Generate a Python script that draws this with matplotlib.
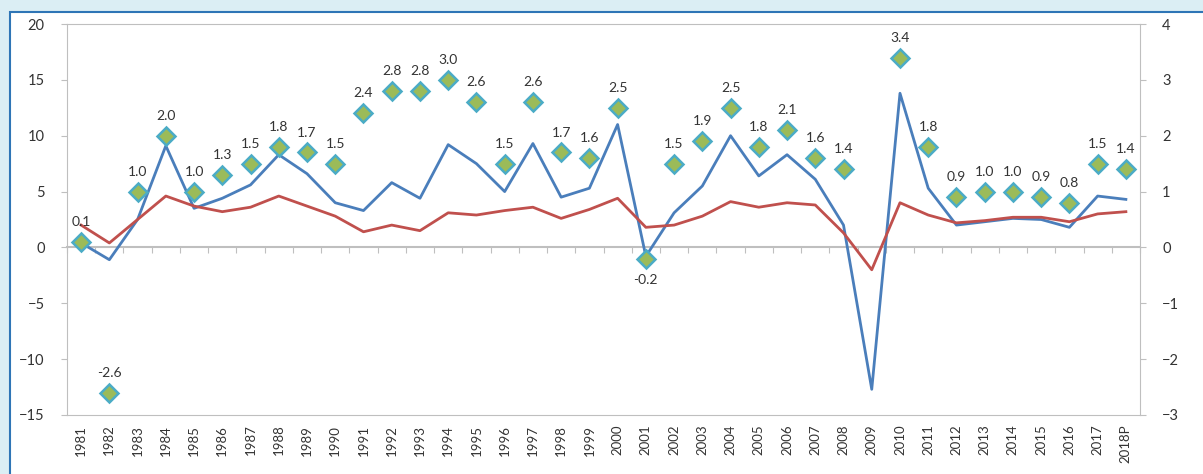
import matplotlib.pyplot as plt
import numpy as np
from matplotlib.patches import Rectangle

plt.rcParams['font.family'] = ['Lato', 'DejaVu Sans']

YEARS = [str(y) for y in range(1981, 2018)] + ['2018P']

# left axis series
BLUE_VALUES = [0.4, -1.1, 2.5, 9.1, 3.5, 4.4, 5.6, 8.3, 6.6, 4.0,
               3.3, 5.8, 4.4, 9.2, 7.5, 5.0, 9.3, 4.5, 5.3, 11.0,
               -0.8, 3.1, 5.5, 10.0, 6.4, 8.3, 6.1, 2.0, -12.7, 13.8,
               5.3, 2.0, 2.3, 2.6, 2.5, 1.8, 4.6, 4.3]
RED_VALUES = [2.0, 0.4, 2.5, 4.6, 3.7, 3.2, 3.6, 4.6, 3.7, 2.8,
              1.4, 2.0, 1.5, 3.1, 2.9, 3.3, 3.6, 2.6, 3.4, 4.4,
              1.8, 2.0, 2.8, 4.1, 3.6, 4.0, 3.8, 1.3, -2.0, 4.0,
              2.9, 2.2, 2.4, 2.7, 2.7, 2.3, 3.0, 3.2]
# right axis series (no point for 2009)
DIAMOND_VALUES = [0.1, -2.6, 1.0, 2.0, 1.0, 1.3, 1.5, 1.8, 1.7, 1.5,
                  2.4, 2.8, 2.8, 3.0, 2.6, 1.5, 2.6, 1.7, 1.6, 2.5,
                  -0.2, 1.5, 1.9, 2.5, 1.8, 2.1, 1.6, 1.4, None, 3.4,
                  1.8, 0.9, 1.0, 1.0, 0.9, 0.8, 1.5, 1.4]
LABEL_BELOW = ['2001']

BLUE = '#4a7ebb'
RED = '#c0504d'
GREY = '#bfbfbf'
TEXT = '#333333'

fig = plt.figure(figsize=(12.03, 4.74), dpi=100)
fig.patch.set_facecolor('#dbeef4')
fig.patches.append(Rectangle((10 / 1203, -0.1), 1.2, (462 / 474) + 0.1,
                             transform=fig.transFigure, facecolor='white',
                             edgecolor='#2e75b6', linewidth=1.5, zorder=-1))

ax = fig.add_axes([67 / 1203, 59 / 474, 1073 / 1203, 391 / 474])
ax.set_zorder(2)
ax.set_facecolor('none')
x = np.arange(len(YEARS))

ax.plot(x, BLUE_VALUES, color=BLUE, lw=2, zorder=3)
ax.plot(x, RED_VALUES, color=RED, lw=2, zorder=3)

ax.set_xlim(-0.5, len(YEARS) - 0.5)
ax.set_ylim(-15, 20)
ax.set_yticks(np.arange(-15, 21, 5))
ax.set_xticks(x)
ax.set_xticklabels(YEARS, rotation=90, fontsize=9.5, color=TEXT)
ax.tick_params(axis='x', length=0, pad=7)
ax.tick_params(axis='y', length=4, color=GREY, labelsize=10.5, labelcolor=TEXT, pad=12)
for s in ax.spines.values():
    s.set_color(GREY)

# horizontal axis crossing at zero
sec = ax.secondary_xaxis(15 / 35)
sec.set_xticks(np.arange(-0.5, len(YEARS), 1))
sec.tick_params(length=4, color=GREY, labelbottom=False, labeltop=False)
sec.spines['bottom'].set_color(GREY)
sec.spines['bottom'].set_linewidth(1.5)

ax2 = ax.twinx()
ax2.set_ylim(-3, 4)
ax2.set_yticks(np.arange(-3, 5, 1))
ax2.tick_params(axis='y', length=4, color=GREY, labelsize=10.5, labelcolor=TEXT, pad=12)
for s in ax2.spines.values():
    s.set_visible(False)

dx = [i for i, v in enumerate(DIAMOND_VALUES) if v is not None]
dv = [v for v in DIAMOND_VALUES if v is not None]
ax2.plot(dx, dv, linestyle='none', marker='D', markersize=9,
         markerfacecolor='#9bbb59', markeredgecolor='#4bacc6',
         markeredgewidth=1.8, zorder=4)
for xi, v in zip(dx, dv):
    below = YEARS[xi] in LABEL_BELOW
    ax2.annotate(f'{v:.1f}', (xi, v), xytext=(0, -11 if below else 10),
                 textcoords='offset points', ha='center',
                 va='top' if below else 'bottom', fontsize=10, color=TEXT)

fig.savefig('out.png', dpi=100, facecolor=fig.get_facecolor())
